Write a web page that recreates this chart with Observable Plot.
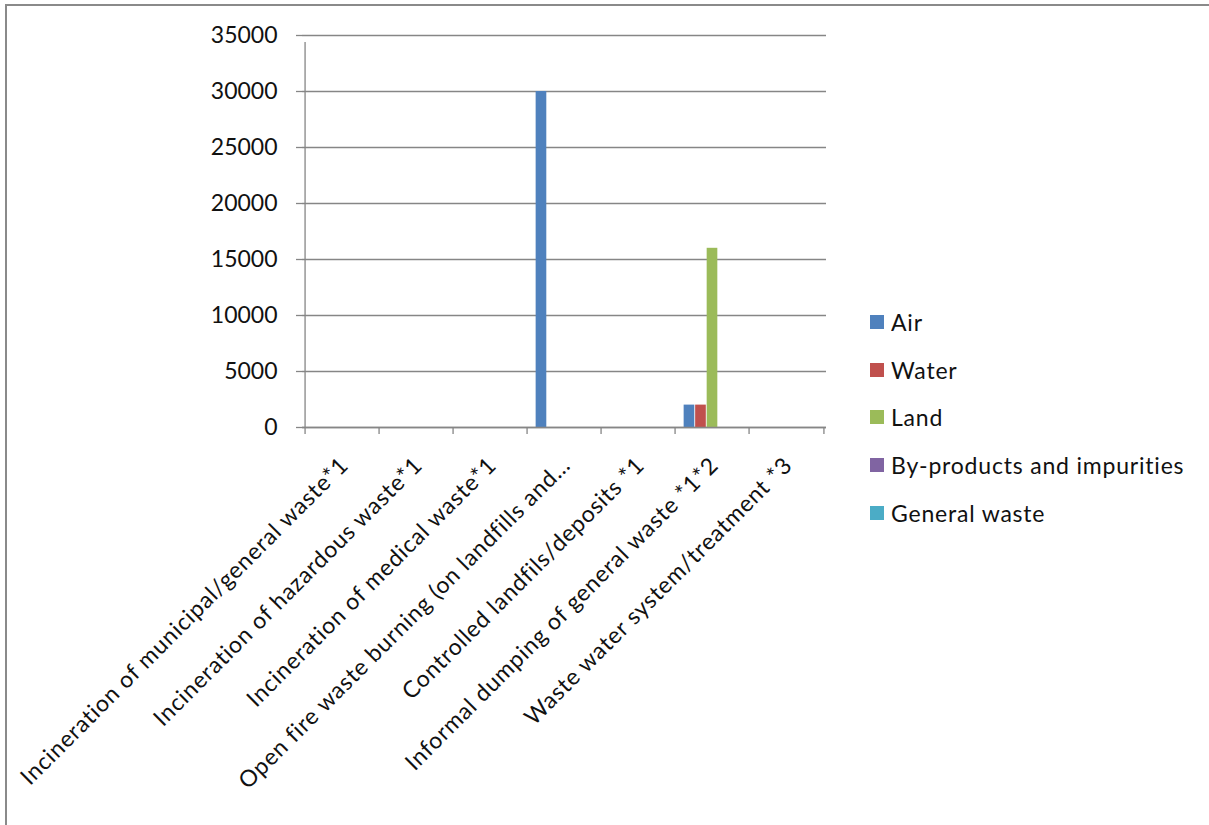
<!DOCTYPE html>
<html>
<head>
<meta charset="utf-8">
<script src="https://cdn.jsdelivr.net/npm/d3@7"></script>
<script src="https://cdn.jsdelivr.net/npm/@observablehq/plot@0.6"></script>
<style>
  html, body { margin: 0; padding: 0; background: #fff; }
  #wrap { position: relative; width: 1209px; height: 825px; overflow: hidden; background: #fff; }
  #border { position: absolute; left: 5px; top: 4px; width: 1300px; height: 900px;
            border-top: 2px solid #8a8a8a; border-left: 2px solid #8a8a8a; }
  #chart { position: absolute; left: 0; top: 0; }
  #legend { position: absolute; left: 870px; top: 298px; }
  .lg-swatch { height: 47.7px !important; margin: 0 !important; padding: 0 !important; display: flex !important; align-items: center !important; }
  .lg-swatch svg { margin-right: 7px !important; }
  .lg-swatches { letter-spacing: 0.8px; }
  .cat-labels text { letter-spacing: 0.8px; }
</style>
</head>
<body>
<div id="wrap">
  <div id="border"></div>
  <div id="chart"></div>
  <div id="legend"></div>
</div>
<script>
// Waste-sector release categories and the receiving media
const categories = [
  "Incineration of municipal/general waste*1",
  "Incineration of hazardous waste*1",
  "Incineration of medical waste*1",
  "Open fire waste burning (on landfills and…",
  "Controlled landfils/deposits *1",
  "Informal dumping of general waste *1*2",
  "Waste water system/treatment *3"
];
const series = ["Air", "Water", "Land", "By-products and impurities", "General waste"];
const air          = [0, 0, 0, 30000, 0, 2000, 0];
const water        = [0, 0, 0, 0, 0, 2000, 0];
const land         = [0, 0, 0, 0, 0, 16000, 0];
const byProducts   = [0, 0, 0, 0, 0, 0, 0];
const generalWaste = [0, 0, 0, 0, 0, 0, 0];
const colors = ["#4f81bd", "#c0504d", "#9bbb59", "#8064a2", "#4bacc6"];
const yTicks = [0, 5000, 10000, 15000, 20000, 25000, 30000, 35000];

const values = [air, water, land, byProducts, generalWaste];
const rows = series.map((s, j) => categories.map((c, i) => ({category: c, series: s, value: values[j][i]})));

const W = 1209, H = 825;
const margin = {left: 302, right: 383, top: 35, bottom: 398};
const band = (W - margin.left - margin.right) / categories.length;
// clustered columns: five bars per group with a gap of 1.5 bar widths
const barW = band / (series.length + 1.5);
const pad = barW * 0.75;

const font = "Lato, 'Open Sans', sans-serif";
const gray = "#868686";

const bars = rows.map((data, j) => Plot.barY(data, {
  x: "category", y: "value", fill: "series",
  insetLeft: pad + j * barW,
  insetRight: band - pad - (j + 1) * barW
}));

const plot = Plot.plot({
  width: W, height: H,
  marginLeft: margin.left, marginRight: margin.right,
  marginTop: margin.top, marginBottom: margin.bottom,
  style: {fontFamily: font, fontSize: "23px", color: "#000", background: "transparent", overflow: "visible"},
  x: {domain: categories, padding: 0, axis: null},
  y: {domain: [0, 35000], ticks: yTicks, axis: null},
  color: {domain: series, range: colors},
  marks: [
    Plot.gridY(yTicks, {stroke: gray, strokeOpacity: 1, strokeWidth: 1.3}),
    Plot.axisY(yTicks, {tickSize: 6, tickPadding: 19, stroke: gray, strokeWidth: 1.3, fill: "#111",
      fontSize: 23, tickFormat: d => String(d), label: null}),
    ...bars,
    // value axis line
    Plot.ruleX([categories[0]], {dx: -band / 2, y1: 0, y2: 35000, insetBottom: -7, stroke: gray, strokeWidth: 1.3}),
    // category axis line
    Plot.ruleY([0], {stroke: gray, strokeWidth: 1.3}),
    // tick marks between categories
    Plot.ruleX(categories, {dx: -band / 2, y1: 0, y2: 0, insetBottom: -7, stroke: gray, strokeWidth: 1.3}),
    Plot.ruleX([categories[categories.length - 1]], {dx: band / 2, y1: 0, y2: 0, insetBottom: -7, stroke: gray, strokeWidth: 1.3}),
    // rotated category labels
    Plot.text(categories, {x: d => d, y: 0, text: d => d, rotate: -45, textAnchor: "end",
      lineAnchor: "middle", dy: 34, dx: 2, fontSize: 23, fill: "#111", className: "cat-labels"})
  ]
});
document.getElementById("chart").appendChild(plot);

const legend = Plot.legend({
  color: {domain: series, range: colors},
  columns: 1, swatchSize: 14, className: "lg",
  style: {fontFamily: font, fontSize: "23px", color: "#111"}
});
document.getElementById("legend").appendChild(legend);
</script>
</body>
</html>
